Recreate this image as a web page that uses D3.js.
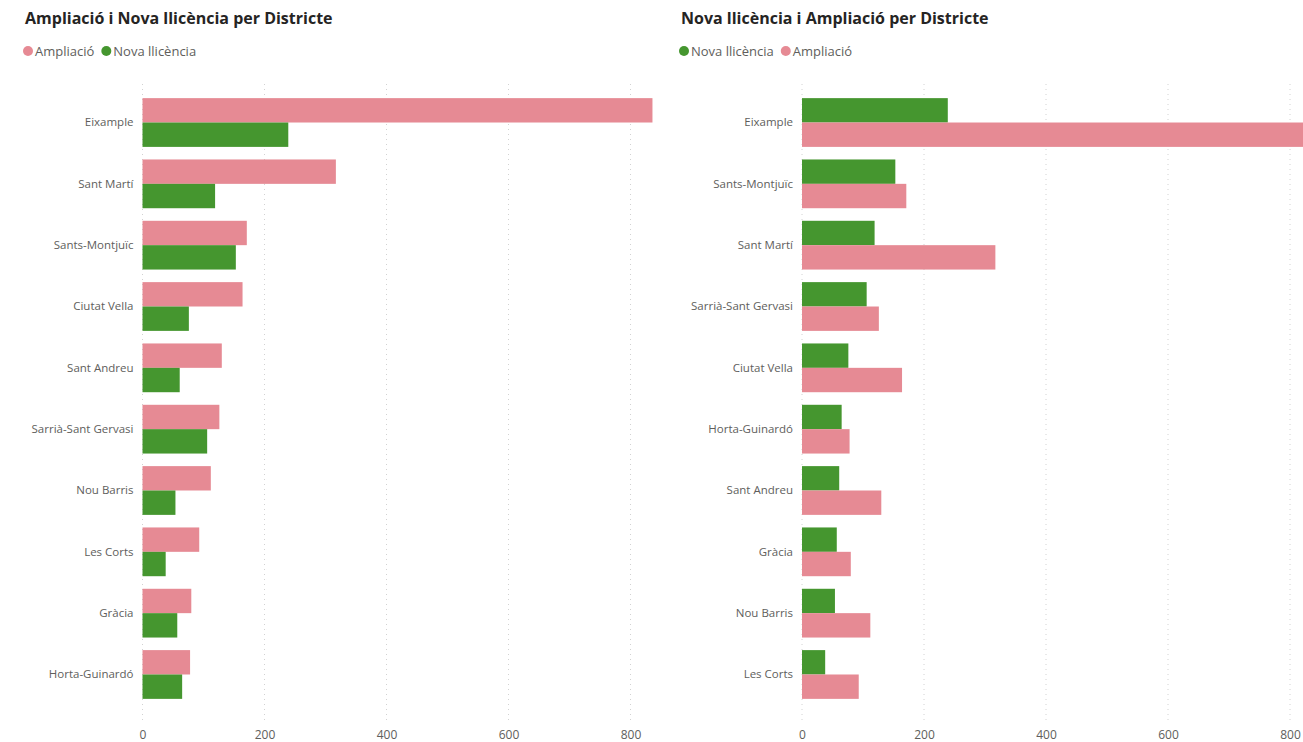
<!DOCTYPE html>
<html>
<head>
<meta charset="utf-8">
<script src="https://cdn.jsdelivr.net/npm/d3@7"></script>
<style>
  html, body { margin: 0; padding: 0; background: #ffffff; overflow: hidden; }
  svg { display: block; }
  text { font-family: "Open Sans", "Noto Sans", sans-serif; }
</style>
</head>
<body>
<svg id="chart" width="1303" height="742"></svg>
<script>
// Districts and their counts for each licence type
const districts = ["Eixample", "Sant Martí", "Sants-Montjuïc", "Ciutat Vella", "Sant Andreu",
  "Sarrià-Sant Gervasi", "Nou Barris", "Les Corts", "Gràcia", "Horta-Guinardó"];
const ampliacio = [836, 317, 171, 164, 130, 126, 112, 93, 80, 78];
const novaLlicencia = [239, 119, 153, 76, 61, 106, 54, 38, 57, 65];
const xTicks = [0, 200, 400, 600, 800];

const COLORS = { "Ampliació": "#E68A94", "Nova llicència": "#45962F" };

const rows = districts.map((d, i) => ({
  district: d, "Ampliació": ampliacio[i], "Nova llicència": novaLlicencia[i]
}));

const svg = d3.select("#chart");

function drawPanel(opts) {
  const g = svg.append("g");
  const sorted = rows.slice().sort((a, b) => d3.descending(a[opts.sortKey], b[opts.sortKey]));

  // title
  g.append("text")
    .attr("x", opts.titleX).attr("y", 24)
    .attr("font-size", 16).attr("font-weight", 700)
    .attr("fill", "#252423")
    .text(opts.title);

  // legend
  let lx = opts.titleX + 3;
  opts.series.forEach(s => {
    g.append("circle").attr("cx", lx).attr("cy", 51).attr("r", 5).attr("fill", COLORS[s]);
    const t = g.append("text")
      .attr("x", lx + 7).attr("y", 55.5)
      .attr("font-size", 13).attr("fill", "#605E5C")
      .text(s);
    lx += 7 + t.node().getComputedTextLength() + 12;
  });

  const x = d3.scaleLinear().domain([0, 800]).range([opts.x0, opts.x0 + 488]);
  const y = d3.scaleBand().domain(sorted.map(d => d.district)).range([92, 705]).paddingInner(0.205).paddingOuter(0.1);
  const ySub = d3.scaleBand().domain(opts.series).range([0, y.bandwidth()]);

  // dotted vertical gridlines
  g.append("g").selectAll("line").data(xTicks).join("line")
    .attr("x1", d => x(d)).attr("x2", d => x(d))
    .attr("y1", 84).attr("y2", 722)
    .attr("stroke", "#D2D2D2").attr("stroke-width", 1)
    .attr("stroke-dasharray", "1,4");

  // x axis labels
  const xAxis = d3.axisBottom(x).tickValues(xTicks).tickSize(0).tickPadding(0);
  const ax = g.append("g").attr("transform", "translate(0,730)").call(xAxis);
  ax.select(".domain").remove();
  ax.selectAll("text").attr("font-size", 12).attr("fill", "#605E5C")
    .attr("font-family", "\"Open Sans\", sans-serif");

  // category labels
  const yAxis = d3.axisLeft(y).tickSize(0).tickPadding(9);
  const ay = g.append("g").attr("transform", `translate(${opts.x0},0)`).call(yAxis);
  ay.select(".domain").remove();
  ay.selectAll("text").attr("font-size", 11.5).attr("fill", "#605E5C")
    .attr("font-family", "\"Open Sans\", sans-serif");

  // bars
  const grp = g.append("g").selectAll("g").data(sorted).join("g")
    .attr("transform", d => `translate(0,${y(d.district)})`);
  grp.selectAll("rect").data(d => opts.series.map(s => ({ s, v: d[s] }))).join("rect")
    .attr("x", x(0))
    .attr("y", d => ySub(d.s))
    .attr("width", d => x(d.v) - x(0))
    .attr("height", ySub.bandwidth())
    .attr("fill", d => COLORS[d.s]);
}

drawPanel({
  titleX: 25, x0: 142.5,
  title: "Ampliació i Nova llicència per Districte",
  series: ["Ampliació", "Nova llicència"], sortKey: "Ampliació"
});
drawPanel({
  titleX: 681, x0: 802,
  title: "Nova llicència i Ampliació per Districte",
  series: ["Nova llicència", "Ampliació"], sortKey: "Nova llicència"
});
</script>
</body>
</html>
